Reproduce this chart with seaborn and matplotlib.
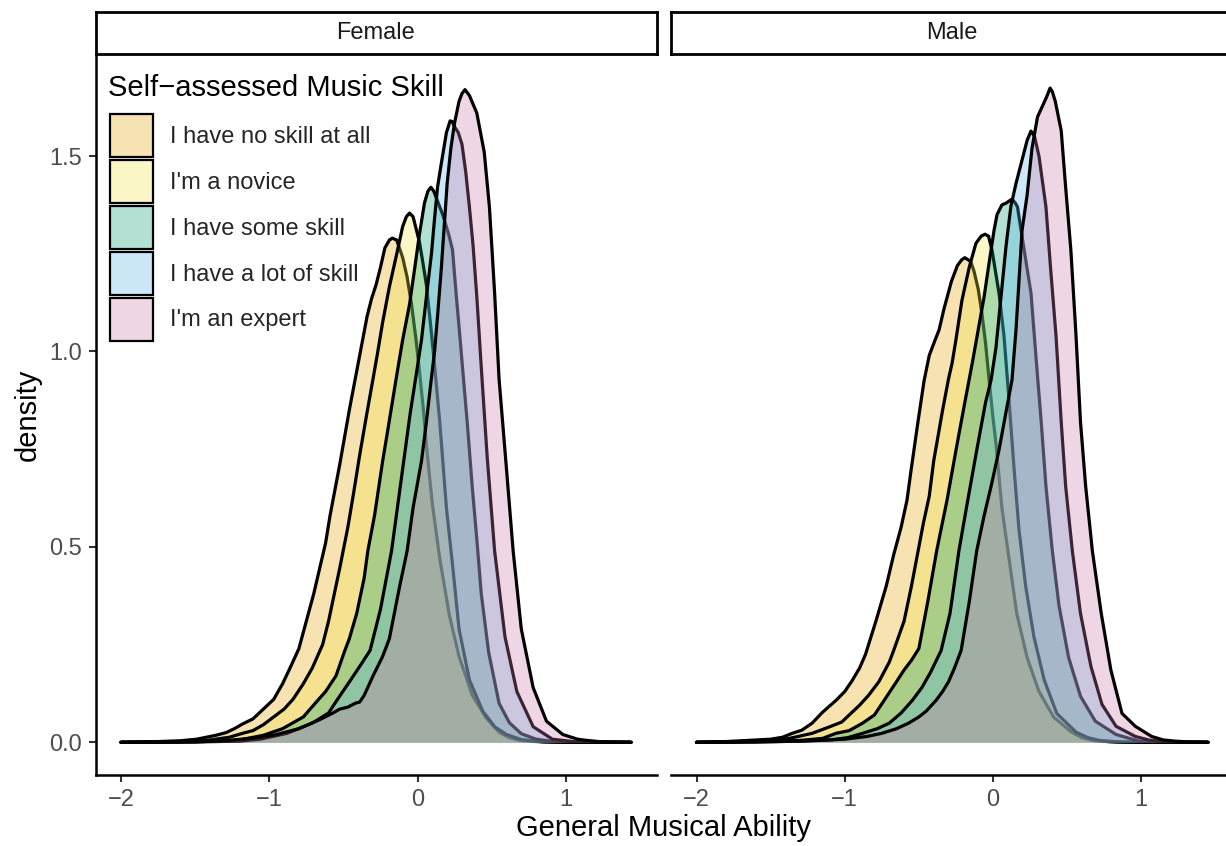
import matplotlib
matplotlib.use("Agg")
import matplotlib.pyplot as plt
from matplotlib.colors import to_rgba
from matplotlib.patches import Patch
import pandas as pd
import seaborn as sns

# Density curves (x = ability, d = density)
skill_levels = [
    "I have no skill at all",
    "I'm a novice",
    "I have some skill",
    "I have a lot of skill",
    "I'm an expert",
]
skill_colors = ["#E69F00", "#F0E442", "#009E73", "#56B4E9", "#CC79A7"]
genders = ["Female", "Male"]

female_none_x = [-2.0, -1.75, -1.6, -1.49, -1.36, -1.29, -1.23, -1.18, -1.11, -1.04, -0.97, -0.91, -0.86, -0.80, -0.75, -0.70, -0.66, -0.62, -0.59, -0.525, -0.46, -0.42, -0.38, -0.34, -0.31, -0.28, -0.25, -0.22, -0.19, -0.17, -0.14, -0.10, -0.07, -0.04, -0.01, 0.013, 0.04, 0.06, 0.10, 0.15, 0.215, 0.28, 0.37, 0.46, 0.55, 0.62, 0.69, 0.80, 1.0, 1.44]
female_none_d = [0.0, 0.002, 0.004, 0.008, 0.018, 0.025, 0.036, 0.047, 0.06, 0.085, 0.11, 0.15, 0.19, 0.24, 0.31, 0.38, 0.445, 0.51, 0.58, 0.71, 0.85, 0.93, 1.01, 1.09, 1.135, 1.17, 1.215, 1.265, 1.285, 1.29, 1.285, 1.24, 1.19, 1.12, 1.03, 0.95, 0.85, 0.76, 0.61, 0.47, 0.325, 0.22, 0.12, 0.064, 0.026, 0.012, 0.005, 0.002, 0.0, 0.0]

female_novice_x = [-2.0, -1.7, -1.5, -1.42, -1.27, -1.18, -1.11, -1.04, -0.97, -0.90, -0.84, -0.77, -0.71, -0.64, -0.60, -0.525, -0.47, -0.43, -0.39, -0.34, -0.30, -0.27, -0.235, -0.19, -0.14, -0.10, -0.075, -0.054, -0.03, 0.013, 0.035, 0.06, 0.085, 0.11, 0.15, 0.195, 0.24, 0.28, 0.35, 0.44, 0.52, 0.60, 0.70, 0.85, 1.0, 1.44]
female_novice_d = [0.0, 0.001, 0.003, 0.005, 0.013, 0.023, 0.03, 0.045, 0.065, 0.085, 0.11, 0.15, 0.19, 0.25, 0.31, 0.445, 0.55, 0.64, 0.735, 0.845, 0.93, 0.995, 1.075, 1.165, 1.25, 1.32, 1.345, 1.354, 1.345, 1.28, 1.23, 1.17, 1.08, 0.985, 0.82, 0.60, 0.44, 0.29, 0.16, 0.08, 0.04, 0.02, 0.007, 0.001, 0.0, 0.0]

female_some_x = [-2.0, -1.6, -1.35, -1.2, -1.04, -0.91, -0.84, -0.77, -0.69, -0.62, -0.55, -0.49, -0.46, -0.41, -0.36, -0.335, -0.29, -0.235, -0.20, -0.14, -0.10, -0.054, -0.02, 0.013, 0.047, 0.07, 0.09, 0.11, 0.13, 0.17, 0.21, 0.236, 0.26, 0.29, 0.31, 0.335, 0.37, 0.40, 0.43, 0.48, 0.55, 0.62, 0.70, 0.80, 0.90, 1.0, 1.44]
female_some_d = [0.0, 0.001, 0.003, 0.006, 0.018, 0.035, 0.05, 0.065, 0.10, 0.13, 0.17, 0.235, 0.265, 0.33, 0.42, 0.49, 0.58, 0.72, 0.80, 0.94, 1.03, 1.12, 1.21, 1.30, 1.38, 1.41, 1.42, 1.41, 1.39, 1.35, 1.30, 1.26, 1.15, 1.02, 0.93, 0.82, 0.65, 0.52, 0.38, 0.23, 0.10, 0.05, 0.022, 0.008, 0.003, 0.001, 0.0]

female_lot_x = [-2.0, -1.5, -1.2, -1.06, -0.88, -0.71, -0.60, -0.545, -0.45, -0.38, -0.32, -0.25, -0.175, -0.10, -0.05, -0.007, 0.027, 0.06, 0.094, 0.114, 0.135, 0.16, 0.195, 0.21, 0.22, 0.235, 0.25, 0.275, 0.30, 0.325, 0.35, 0.375, 0.40, 0.43, 0.47, 0.52, 0.59, 0.67, 0.78, 0.91, 1.05, 1.44]
female_lot_d = [0.0, 0.001, 0.003, 0.008, 0.023, 0.049, 0.075, 0.107, 0.16, 0.20, 0.235, 0.34, 0.49, 0.70, 0.84, 0.945, 1.03, 1.14, 1.25, 1.336, 1.42, 1.48, 1.56, 1.578, 1.59, 1.588, 1.575, 1.56, 1.53, 1.46, 1.37, 1.27, 1.14, 0.96, 0.73, 0.49, 0.27, 0.13, 0.04, 0.008, 0.002, 0.0]

female_expert_x = [-2.0, -1.5, -1.27, -1.06, -0.95, -0.80, -0.66, -0.57, -0.525, -0.47, -0.42, -0.39, -0.36, -0.30, -0.235, -0.19, -0.12, -0.07, -0.03, 0.027, 0.06, 0.09, 0.115, 0.135, 0.16, 0.18, 0.20, 0.225, 0.25, 0.28, 0.30, 0.32, 0.35, 0.40, 0.45, 0.485, 0.52, 0.55, 0.60, 0.645, 0.70, 0.78, 0.87, 0.98, 1.08, 1.14, 1.25, 1.44]
female_expert_d = [0.0, 0.001, 0.005, 0.013, 0.02, 0.035, 0.058, 0.075, 0.085, 0.09, 0.10, 0.103, 0.12, 0.17, 0.22, 0.265, 0.40, 0.49, 0.60, 0.72, 0.82, 0.92, 1.00, 1.09, 1.21, 1.32, 1.43, 1.52, 1.585, 1.64, 1.66, 1.67, 1.655, 1.61, 1.51, 1.37, 1.15, 0.93, 0.70, 0.49, 0.29, 0.14, 0.054, 0.02, 0.008, 0.005, 0.001, 0.0]

male_none_x = [-2.0, -1.8, -1.65, -1.5, -1.42, -1.355, -1.29, -1.22, -1.15, -1.06, -1.0, -0.95, -0.90, -0.86, -0.79, -0.72, -0.67, -0.62, -0.58, -0.555, -0.51, -0.465, -0.43, -0.39, -0.364, -0.33, -0.28, -0.24, -0.21, -0.19, -0.15, -0.128, -0.10, -0.074, -0.05, -0.027, 0.0, 0.02, 0.06, 0.108, 0.16, 0.23, 0.31, 0.41, 0.53, 0.60, 0.67, 0.80, 1.0, 1.45]
male_none_d = [0.0, 0.002, 0.005, 0.008, 0.013, 0.023, 0.031, 0.049, 0.077, 0.107, 0.13, 0.158, 0.19, 0.225, 0.31, 0.40, 0.48, 0.55, 0.62, 0.69, 0.81, 0.925, 0.99, 1.03, 1.055, 1.11, 1.18, 1.22, 1.235, 1.24, 1.23, 1.205, 1.16, 1.095, 1.02, 0.93, 0.83, 0.765, 0.60, 0.47, 0.33, 0.217, 0.13, 0.064, 0.026, 0.012, 0.005, 0.001, 0.0, 0.0]

male_novice_x = [-2.0, -1.7, -1.5, -1.375, -1.22, -1.10, -1.02, -0.90, -0.84, -0.77, -0.70, -0.67, -0.60, -0.55, -0.505, -0.47, -0.43, -0.40, -0.34, -0.30, -0.276, -0.25, -0.21, -0.16, -0.115, -0.08, -0.054, -0.03, -0.007, 0.04, 0.074, 0.108, 0.14, 0.175, 0.22, 0.276, 0.345, 0.43, 0.56, 0.64, 0.715, 0.85, 1.0, 1.45]
male_novice_d = [0.0, 0.002, 0.004, 0.01, 0.023, 0.04, 0.052, 0.095, 0.12, 0.155, 0.205, 0.235, 0.31, 0.40, 0.49, 0.56, 0.63, 0.72, 0.85, 0.93, 0.97, 1.03, 1.13, 1.216, 1.277, 1.295, 1.30, 1.295, 1.26, 1.15, 1.04, 0.875, 0.71, 0.545, 0.40, 0.27, 0.16, 0.074, 0.026, 0.012, 0.005, 0.001, 0.0, 0.0]

male_some_x = [-2.0, -1.6, -1.3, -1.15, -1.06, -0.97, -0.88, -0.80, -0.735, -0.66, -0.60, -0.55, -0.50, -0.44, -0.38, -0.31, -0.25, -0.19, -0.14, -0.10, -0.06, -0.027, 0.007, 0.027, 0.06, 0.09, 0.128, 0.15, 0.165, 0.21, 0.256, 0.29, 0.325, 0.357, 0.40, 0.445, 0.51, 0.59, 0.69, 0.83, 0.985, 1.1, 1.45]
male_some_d = [0.0, 0.002, 0.005, 0.01, 0.023, 0.03, 0.049, 0.07, 0.107, 0.15, 0.185, 0.21, 0.24, 0.36, 0.49, 0.62, 0.747, 0.87, 0.97, 1.055, 1.14, 1.225, 1.31, 1.35, 1.375, 1.38, 1.39, 1.38, 1.37, 1.26, 1.15, 0.985, 0.82, 0.655, 0.49, 0.35, 0.217, 0.118, 0.054, 0.02, 0.003, 0.001, 0.0]

male_lot_x = [-2.0, -1.6, -1.3, -1.1, -0.98, -0.88, -0.78, -0.70, -0.62, -0.545, -0.48, -0.42, -0.35, -0.29, -0.23, -0.17, -0.11, -0.05, -0.013, 0.02, 0.054, 0.088, 0.12, 0.155, 0.196, 0.23, 0.256, 0.28, 0.31, 0.357, 0.39, 0.425, 0.46, 0.49, 0.535, 0.59, 0.66, 0.735, 0.83, 0.96, 1.05, 1.12, 1.25, 1.45]
male_lot_d = [0.0, 0.001, 0.003, 0.006, 0.012, 0.023, 0.035, 0.049, 0.075, 0.107, 0.14, 0.18, 0.235, 0.33, 0.49, 0.62, 0.747, 0.87, 0.927, 1.01, 1.14, 1.27, 1.37, 1.43, 1.49, 1.54, 1.564, 1.55, 1.50, 1.37, 1.205, 1.04, 0.82, 0.655, 0.49, 0.33, 0.195, 0.097, 0.041, 0.015, 0.006, 0.003, 0.001, 0.0]

male_expert_x = [-2.0, -1.6, -1.3, -1.0, -0.85, -0.75, -0.65, -0.57, -0.50, -0.45, -0.385, -0.34, -0.30, -0.26, -0.215, -0.16, -0.11, -0.06, -0.01, 0.04, 0.09, 0.128, 0.155, 0.175, 0.196, 0.23, 0.263, 0.30, 0.33, 0.36, 0.385, 0.40, 0.42, 0.46, 0.49, 0.525, 0.56, 0.59, 0.625, 0.67, 0.73, 0.795, 0.87, 0.96, 1.07, 1.15, 1.23, 1.32, 1.45]
male_expert_d = [0.0, 0.001, 0.003, 0.008, 0.015, 0.023, 0.035, 0.049, 0.065, 0.08, 0.107, 0.13, 0.155, 0.19, 0.235, 0.36, 0.49, 0.58, 0.66, 0.747, 0.85, 0.927, 1.055, 1.18, 1.31, 1.40, 1.52, 1.60, 1.625, 1.65, 1.674, 1.665, 1.64, 1.565, 1.42, 1.26, 1.04, 0.82, 0.655, 0.49, 0.33, 0.185, 0.074, 0.041, 0.015, 0.006, 0.003, 0.001, 0.0]

x_ticks = [-2, -1, 0, 1]
y_ticks = [0.0, 0.5, 1.0, 1.5]
y_tick_labels = ["0.0", "0.5", "1.0", "1.5"]

# Long table: one row per curve point
rows = []
curves = {
    "Female": [(female_none_x, female_none_d), (female_novice_x, female_novice_d),
               (female_some_x, female_some_d), (female_lot_x, female_lot_d),
               (female_expert_x, female_expert_d)],
    "Male": [(male_none_x, male_none_d), (male_novice_x, male_novice_d),
             (male_some_x, male_some_d), (male_lot_x, male_lot_d),
             (male_expert_x, male_expert_d)],
}
for gender in genders:
    for level, (xs, ds) in zip(skill_levels, curves[gender]):
        for xv, dv in zip(xs, ds):
            rows.append({"Gender": gender, "Skill": level, "ability": xv, "density": dv})
df = pd.DataFrame(rows)

W, H = 1226, 846


def box(left, top, right, bottom):
    # pixel box -> figure fraction [left, bottom, width, height]
    return [left / W, 1 - bottom / H, (right - left) / W, (bottom - top) / H]


sns.set_theme(style="ticks")
plt.rcParams["font.family"] = ["Liberation Sans", "DejaVu Sans"]

fig = plt.figure(figsize=(W / 100, H / 100), dpi=100)

panel_left = {"Female": 95.5, "Male": 671}
panel_width = 561

for gender in genders:
    left = panel_left[gender]
    ax = fig.add_axes(box(left, 56, left + panel_width, 775))
    sub = df[df["Gender"] == gender]
    for i, level in enumerate(skill_levels):
        part = sub[sub["Skill"] == level]
        ax.fill_between(part["ability"], part["density"], 0, color=skill_colors[i],
                        alpha=0.3, linewidth=0, zorder=2 + 2 * i)
        sns.lineplot(data=part, x="ability", y="density", ax=ax, color="black",
                     linewidth=2.3, sort=False, estimator=None, zorder=3 + 2 * i,
                     solid_joinstyle="round", solid_capstyle="round")

    ax.set_xlim(-2.172, 1.612)
    ax.set_ylim(-0.0836, 1.756)
    ax.set_xticks(x_ticks)
    ax.set_yticks(y_ticks)
    ax.set_yticklabels(y_tick_labels)
    ax.set_xlabel("")
    ax.set_ylabel("")
    ax.patch.set_alpha(0)
    sns.despine(ax=ax, left=(gender == "Male"))
    for side in ["left", "bottom"]:
        ax.spines[side].set_linewidth(1.8)
        ax.spines[side].set_color("black")
    ax.tick_params(axis="both", length=5, width=1.5, color="#333333",
                   labelsize=17, labelcolor="#4D4D4D", pad=5)
    if gender == "Male":
        ax.tick_params(axis="y", left=False, labelleft=False)

    # facet strip
    sax = fig.add_axes(box(left, 12, left + panel_width, 54))
    sax.set_xticks([])
    sax.set_yticks([])
    sax.set_facecolor("white")
    for sp in sax.spines.values():
        sp.set_visible(True)
        sp.set_linewidth(2.0)
        sp.set_color("black")
    sax.text(0.5, 0.5, gender, ha="center", va="center", fontsize=17,
             color="#1A1A1A", transform=sax.transAxes)

# legend inside the Female panel
handles = [Patch(facecolor=to_rgba(c, 0.3), edgecolor="black", linewidth=1.6)
           for c in skill_colors]
fig.legend(handles, skill_levels, loc="upper left",
           bbox_to_anchor=(110 / W, 1 - 114 / H), frameon=False,
           fontsize=17, handlelength=1.82, handleheight=2.43,
           labelspacing=0.12, handletextpad=0.7, borderpad=0, borderaxespad=0)
fig.text(108 / W, 1 - 96 / H, "Self\u2212assessed Music Skill", fontsize=21,
         ha="left", va="baseline", color="black")

fig.text(663 / W, 1 - 828 / H, "General Musical Ability", fontsize=21,
         ha="center", va="center", color="black")
fig.text(28 / W, 1 - 415 / H, "density", fontsize=21, rotation=90,
         ha="center", va="center", color="black")

fig.savefig("out.png", dpi=100)
